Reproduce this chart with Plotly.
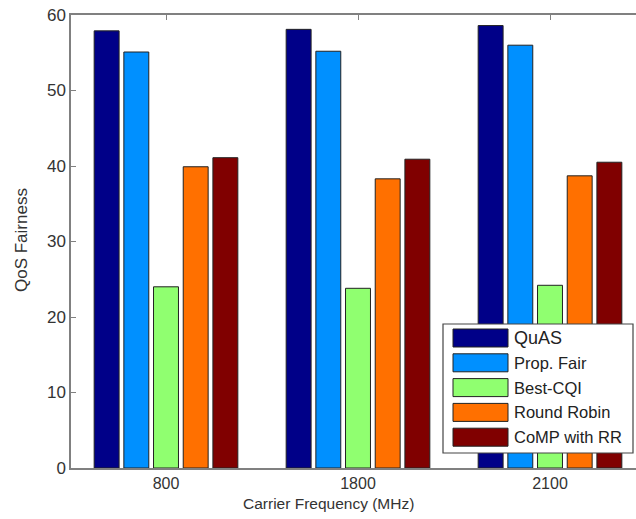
import plotly.graph_objects as go

categories = ["800", "1800", "2100"]
series_names = ["QuAS", "Prop. Fair", "Best-CQI", "Round Robin", "CoMP with RR"]
quas = [57.9, 58.1, 58.6]
prop_fair = [55.1, 55.2, 56.0]
best_cqi = [24.0, 23.8, 24.2]
round_robin = [39.9, 38.3, 38.7]
comp_rr = [41.1, 40.9, 40.5]
y_ticks = [0, 10, 20, 30, 40, 50, 60]

series_values = [quas, prop_fair, best_cqi, round_robin, comp_rr]
colors = ["#000088", "#0090FF", "#90FF70", "#FF7000", "#800000"]

W, H = 636, 519
L, R, T, B = 71, 0, 15, 519 - 468
pw, ph = W - L - R, H - T - B

fig = go.Figure()
x_idx = list(range(len(categories)))
for name, vals, col in zip(series_names, series_values, colors):
    fig.add_trace(go.Bar(
        x=x_idx, y=vals, name=name,
        marker=dict(color=col, line=dict(color="#222222", width=1)),
        showlegend=False,
    ))

# helpers: page pixel -> paper coords
def px_to_paper_x(px):
    return (px - L) / pw

def px_to_paper_y(py):
    return (H - B - py) / ph

shapes = []
annotations = []
box = dict(x0=443, x1=633, y0=324, y1=453)
shapes.append(dict(type="rect", xref="paper", yref="paper", layer="above",
                   x0=px_to_paper_x(box["x0"]), x1=px_to_paper_x(box["x1"]),
                   y0=px_to_paper_y(box["y1"]), y1=px_to_paper_y(box["y0"]),
                   fillcolor="white", line=dict(color="#444444", width=1.2)))
row0, row_step = 338, 24.8
for i, (name, col) in enumerate(zip(series_names, colors)):
    cy = row0 + i * row_step
    shapes.append(dict(type="rect", xref="paper", yref="paper", layer="above",
                       x0=px_to_paper_x(453), x1=px_to_paper_x(508),
                       y0=px_to_paper_y(cy + 9), y1=px_to_paper_y(cy - 9),
                       fillcolor=col, line=dict(color="#222222", width=1)))
    annotations.append(dict(xref="paper", yref="paper", x=px_to_paper_x(512),
                            y=px_to_paper_y(cy), xanchor="left", yanchor="middle",
                            text=name, showarrow=False,
                            font=dict(size=18 if i == 0 else 16.5, color="#222222",
                                      family="Liberation Sans")))

annotations.append(dict(xref="paper", yref="paper", x=px_to_paper_x(328),
                        y=px_to_paper_y(503), xanchor="center", yanchor="middle",
                        text="Carrier Frequency (MHz)", showarrow=False,
                        font=dict(size=15.5, color="#333333", family="Liberation Sans")))
annotations.append(dict(xref="paper", yref="paper", x=px_to_paper_x(21),
                        y=px_to_paper_y(240), xanchor="center", yanchor="middle",
                        text="QoS Fairness", textangle=-90, showarrow=False,
                        font=dict(size=17, color="#333333", family="Liberation Sans")))

fig.update_layout(
    width=W, height=H,
    margin=dict(l=L, r=R, t=T, b=B, pad=0),
    paper_bgcolor="white", plot_bgcolor="white",
    barmode="group", bargap=0.227, bargroupgap=0.16,
    font=dict(family="Liberation Sans", color="#333333", size=15),
    shapes=shapes, annotations=annotations,
    xaxis=dict(
        range=[-0.4948, (W - R - 166) / 192],
        tickmode="array", tickvals=x_idx, ticktext=categories,
        showline=True, linecolor="#808080", linewidth=1.5, mirror="ticks",
        ticks="inside", ticklen=5, tickcolor="#808080",
        showgrid=False, zeroline=False, layer="below traces",
        tickfont=dict(size=16, color="#333333"),
    ),
    yaxis=dict(
        range=[0, 60], tickvals=y_ticks,
        showline=True, linecolor="#808080", linewidth=1.5,
        ticks="inside", ticklen=5, tickcolor="#808080",
        showgrid=False, zeroline=False, ticklabeloverflow="allow",
        automargin=False,
        tickfont=dict(size=17, color="#333333"),
    ),
)

fig.write_html(
    "out.html",
    config={"displayModeBar": False},
    post_script="document.body.style.margin='0';document.body.style.overflow='hidden';",
)
